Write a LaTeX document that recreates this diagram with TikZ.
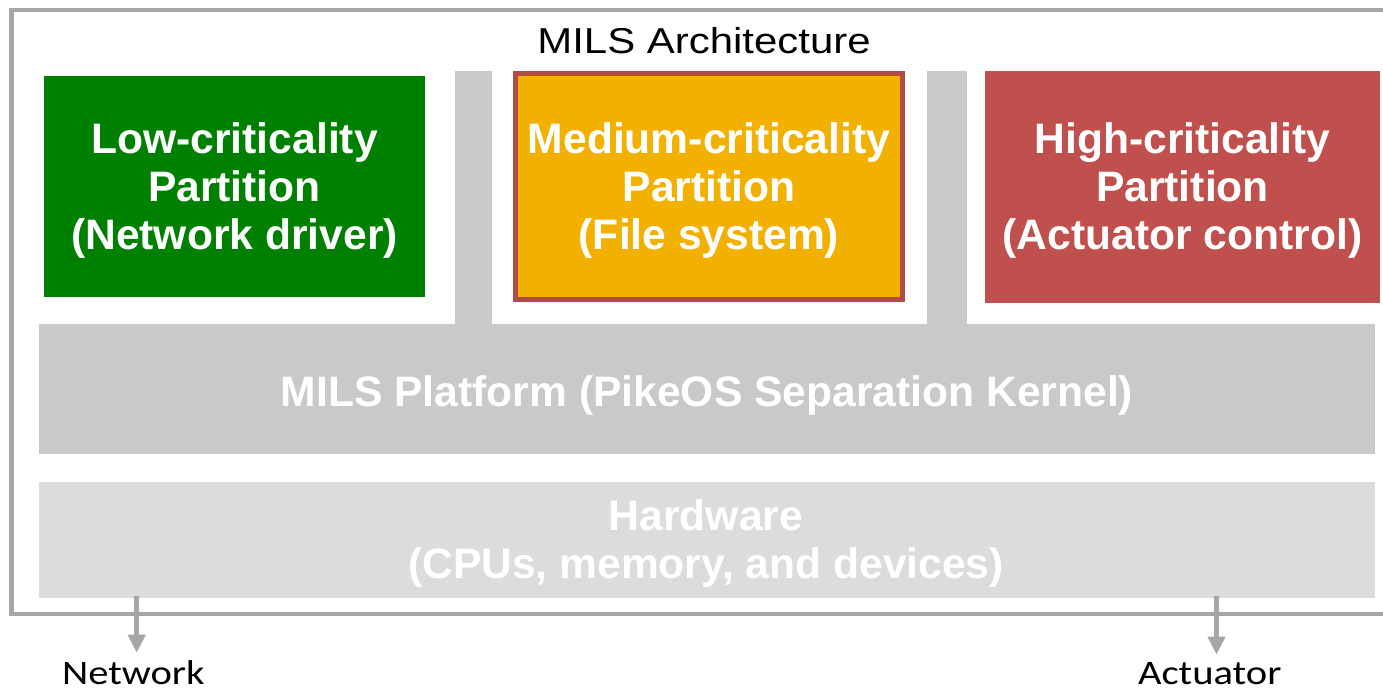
\documentclass[tikz,border=0pt]{standalone}
\usepackage{fontspec}
\setmainfont{Liberation Sans}
\newfontfamily\labelfont{Carlito}
\usetikzlibrary{arrows.meta}

\definecolor{lowgreen}{HTML}{008000}
\definecolor{medorange}{HTML}{F2B100}
\definecolor{medborder}{HTML}{B04B47}
\definecolor{highred}{HTML}{C0504D}
\definecolor{kernelgray}{HTML}{C9C9C9}
\definecolor{hwgray}{HTML}{DCDCDC}
\definecolor{framegray}{HTML}{A6A6A6}

\tikzset{
  layerbox/.style={rectangle, inner sep=0pt, outer sep=0pt, anchor=north west},
  boxtext/.style={text=white, align=center, inner sep=0pt,
    font=\bfseries\fontsize{21.3pt}{24pt}\selectfont},
  iolabel/.style={inner sep=0pt, anchor=base,
    font=\labelfont\fontsize{17.2pt}{20pt}\selectfont},
  ioarrow/.style={draw=framegray, line width=2.5pt,
    -{Triangle[width=8.5pt,length=9pt]}, shorten >=3.5pt},
}

\begin{document}
\begin{tikzpicture}[x=0.5pt,y=-0.5pt]
\useasboundingbox (0,0) rectangle (1383,691);
\clip (0,0) rectangle (1383,691);

% outer frame of the architecture (open to the right)
\draw[framegray, line width=2.25pt, line join=miter]
  (1400,10) -- (11.5,10) -- (11.5,614) -- (1400,614);

% title
\node[anchor=base, inner sep=0pt, font=\fontsize{18pt}{21pt}\selectfont]
  (title) at (704,53) {\scalebox{1.165}[1]{MILS Architecture}};

% separation pillars rising from the kernel
\node[layerbox, fill=kernelgray, minimum width=18.5pt, minimum height=129.5pt]
  (pillarA) at (455,71) {};
\node[layerbox, fill=kernelgray, minimum width=20pt, minimum height=129.5pt]
  (pillarB) at (927,71) {};

% partitions
\node[layerbox, fill=lowgreen, minimum width=190.5pt, minimum height=110.5pt]
  (low) at (44,76) {};
\node[layerbox, fill=medorange, draw=medborder, line width=2.5pt,
      minimum width=193.5pt, minimum height=113pt]
  (med) at (515.5,73.5) {};
\node[layerbox, fill=highred, minimum width=197.5pt, minimum height=116pt]
  (high) at (985,71) {};

\node[boxtext] (lowtext) at (234.5,190.3)
  {Low-criticality\\Partition\\(Network driver)};
\node[boxtext] (medtext) at (709,190.5)
  {Medium-criticality\\Partition\\(File system)};
\node[boxtext] (hightext) at (1182.5,190.5)
  {High-criticality\\Partition\\(Actuator control)};

% separation kernel and hardware layers
\node[layerbox, fill=kernelgray, minimum width=668pt, minimum height=65pt]
  (platform) at (39,324) {};
\node[boxtext, anchor=base] (platformtext) at (707,406)
  {MILS Platform (PikeOS Separation Kernel)};

\node[layerbox, fill=hwgray, minimum width=668pt, minimum height=58pt]
  (hardware) at (39,482) {};
\node[boxtext] (hardwaretext) at (706,543.3)
  {Hardware\\(CPUs, memory, and devices)};

% external I/O
\node[iolabel] (network) at (133.3,684) {\scalebox{1.18}[1]{Network}};
\node[iolabel] (actuator) at (1209.7,684) {\scalebox{1.18}[1]{Actuator}};

\coordinate (netout) at (136.7,596);
\coordinate (actout) at (1216.5,596);
\draw[ioarrow] (netout) -- (netout |- network.north);
\draw[ioarrow] (actout) -- (actout |- actuator.north);
\end{tikzpicture}
\end{document}
